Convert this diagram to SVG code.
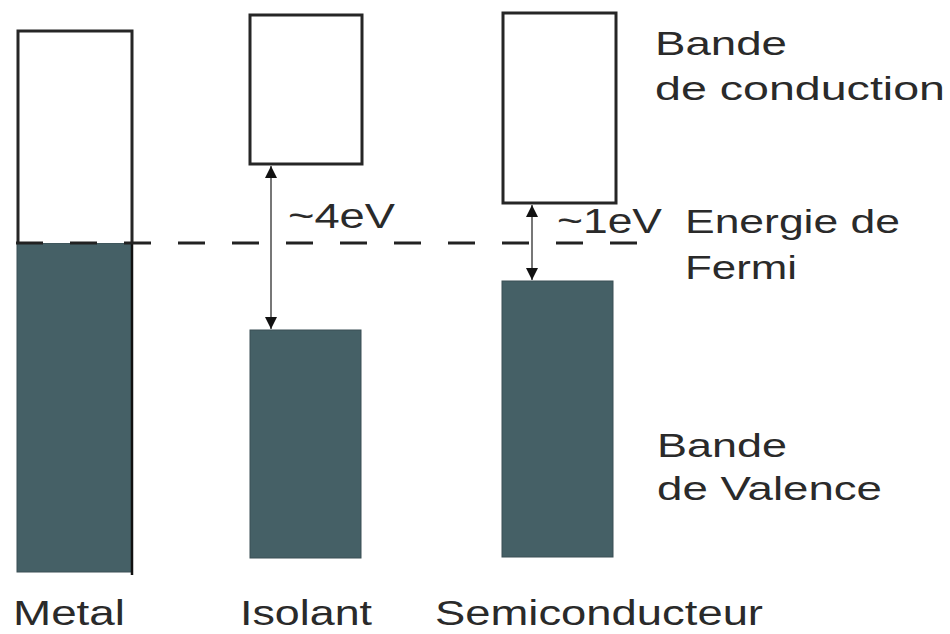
<svg xmlns="http://www.w3.org/2000/svg" width="950" height="634" viewBox="0 0 950 634">
<style>
.band{fill:#fff;stroke:#262626;stroke-width:3}
.fill{fill:#456066;stroke:#3a4f54;stroke-width:1}
.lbl{font-family:"Liberation Sans",Arial,sans-serif;fill:#2a2a2a}
.r{font-size:34px}
.b{font-size:35px}
.gap{stroke:#555;stroke-width:1.6;fill:none}
.fermi{stroke:#222;stroke-width:3;stroke-dasharray:27 27;fill:none}
</style>
<defs>
<marker id="ah" viewBox="0 0 12 12" refX="12" refY="6" markerWidth="12" markerHeight="12" markerUnits="userSpaceOnUse" orient="auto-start-reverse">
<path d="M0,0 L12,6 L0,12 z" fill="#111"/>
</marker>
</defs>
<rect width="950" height="634" fill="#fff"/>
<g id="metal">
<rect class="fill" x="17" y="243" width="115" height="329"/>
<path d="M18,243 V31 H132 V243" class="band" fill="#fff"/>
<line x1="132" y1="243" x2="132" y2="575" stroke="#111" stroke-width="2.5"/>
<text class="lbl b" x="13" y="625" textLength="112" lengthAdjust="spacingAndGlyphs">Metal</text>
</g>
<g id="isolant">
<rect class="band" x="250" y="15" width="112" height="149"/>
<rect class="fill" x="250" y="330" width="111" height="228"/>
<text class="lbl b" x="240" y="625" textLength="132" lengthAdjust="spacingAndGlyphs">Isolant</text>
</g>
<g id="semiconducteur">
<rect class="band" x="503" y="13" width="113" height="190"/>
<rect class="fill" x="502" y="281" width="111" height="276"/>
<text class="lbl b" x="435" y="625" textLength="328" lengthAdjust="spacingAndGlyphs">Semiconducteur</text>
</g>
<g id="connectors">
<line class="fermi" x1="16" y1="243" x2="640" y2="243"/>
<line class="gap" x1="271" y1="166" x2="271" y2="329" marker-start="url(#ah)" marker-end="url(#ah)"/>
<line class="gap" x1="532" y1="205" x2="532" y2="280" marker-start="url(#ah)" marker-end="url(#ah)"/>
</g>
<g id="labels">
<text class="lbl" font-size="35" x="288" y="228" textLength="107" lengthAdjust="spacingAndGlyphs">~4eV</text>
<text class="lbl" font-size="35" x="557" y="233" textLength="105" lengthAdjust="spacingAndGlyphs">~1eV</text>
<text class="lbl r" x="655" y="55" textLength="132" lengthAdjust="spacingAndGlyphs">Bande</text>
<text class="lbl r" x="655" y="100" textLength="290" lengthAdjust="spacingAndGlyphs">de conduction</text>
<text class="lbl r" x="685" y="233" textLength="215" lengthAdjust="spacingAndGlyphs">Energie de</text>
<text class="lbl r" x="685" y="279" textLength="112" lengthAdjust="spacingAndGlyphs">Fermi</text>
<text class="lbl r" x="657" y="457" textLength="130" lengthAdjust="spacingAndGlyphs">Bande</text>
<text class="lbl r" x="657" y="500" textLength="225" lengthAdjust="spacingAndGlyphs">de Valence</text>
</g>
</svg>
